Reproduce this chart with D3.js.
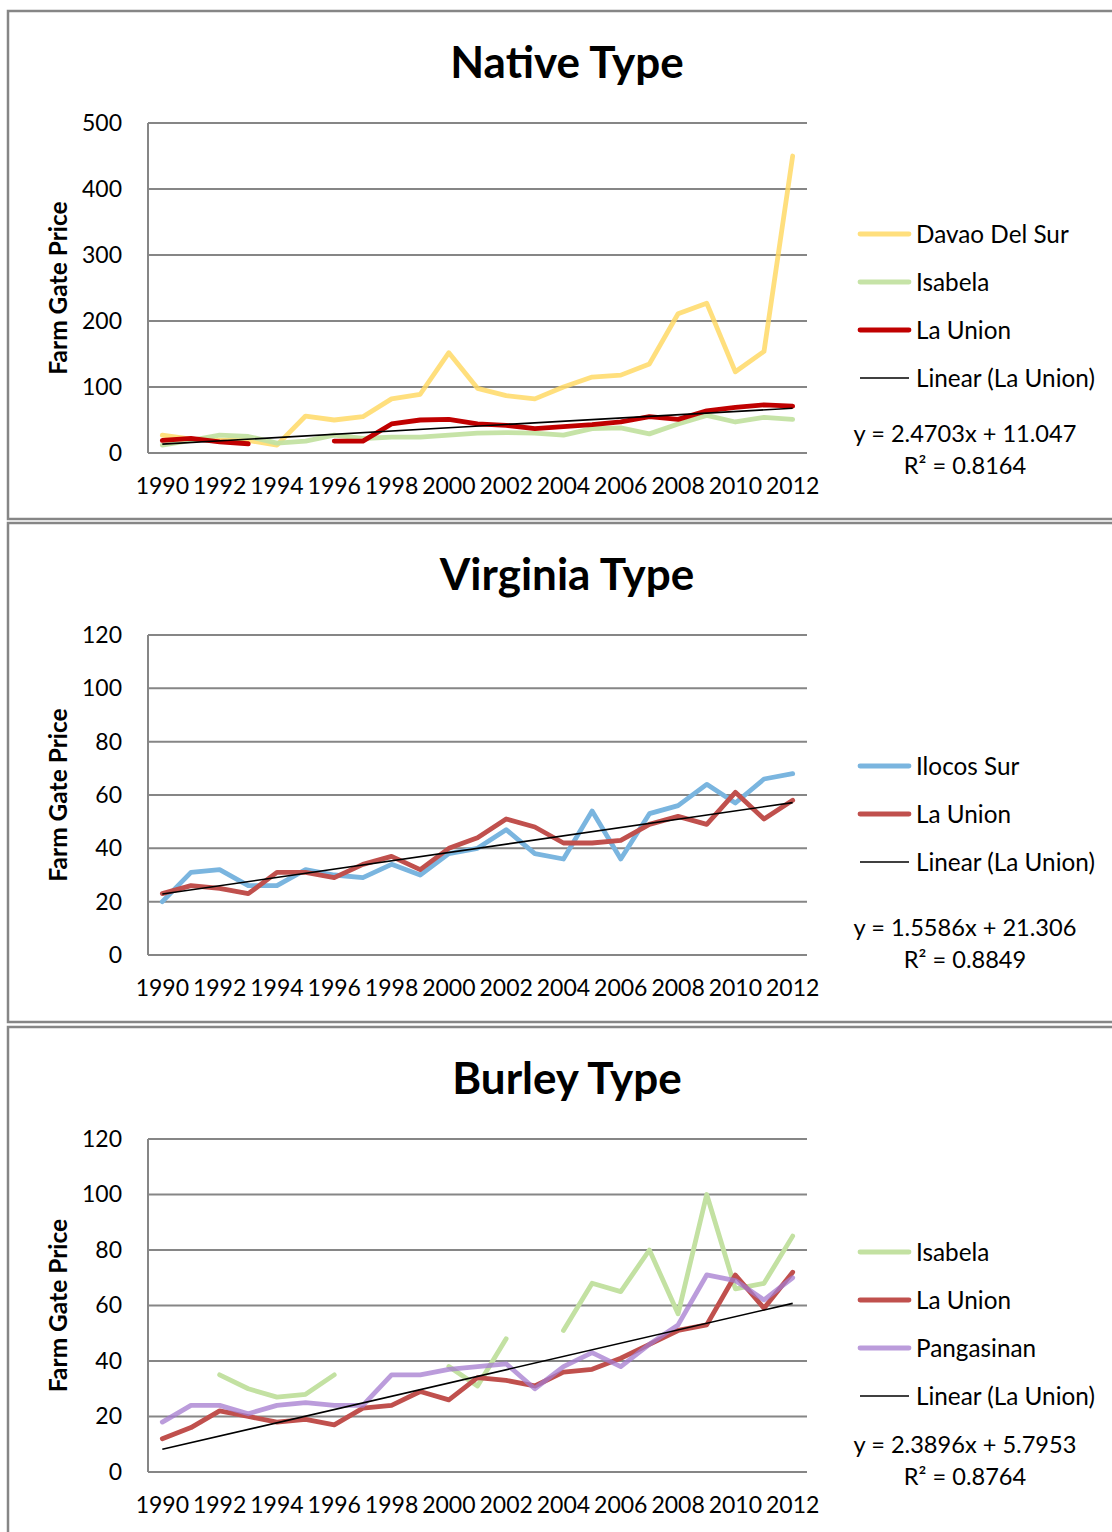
<!DOCTYPE html>
<html>
<head>
<meta charset="utf-8">
<script src="https://cdn.jsdelivr.net/npm/d3@7"></script>
<style>
  html, body { margin: 0; padding: 0; background: #fff; }
  svg { display: block; }
  text { font-family: Lato, "Open Sans", sans-serif; fill: #000; }
</style>
</head>
<body>
<svg id="chart" width="1112" height="1532"></svg>
<script>
// Farm gate prices of tobacco by type and province, 1990-2012
const years = [1990, 1991, 1992, 1993, 1994, 1995, 1996, 1997, 1998, 1999, 2000, 2001,
               2002, 2003, 2004, 2005, 2006, 2007, 2008, 2009, 2010, 2011, 2012];

// Native type
const nativeDavao    = [27, 21, 19, 19, 12, 56, 50, 55, 82, 89, 152, 98, 87, 82, 100, 115, 118, 135, 211, 227, 123, 154, 450];
const nativeIsabela  = [12, 19, 27, 25, 15, 18, 27, 22, 24, 24, 27, 30, 31, 30, 27, 37, 38, 29, 44, 57, 47, 54, 51];
const nativeLaUnion  = [19, 22, 17, 14, null, null, 18, 18, 44, 50, 51, 44, 42, 37, 40, 43, 47, 55, 51, 64, 69, 73, 71];
const nativeTrend    = { slope: 2.4703, intercept: 11.047, r2: "0.8164" };
const nativeTicks    = [0, 100, 200, 300, 400, 500];

// Virginia type
const virginiaIlocos  = [20, 31, 32, 26, 26, 32, 30, 29, 34, 30, 38, 40, 47, 38, 36, 54, 36, 53, 56, 64, 57, 66, 68];
const virginiaLaUnion = [23, 26, 25, 23, 31, 31, 29, 34, 37, 32, 40, 44, 51, 48, 42, 42, 43, 49, 52, 49, 61, 51, 58];
const virginiaTrend   = { slope: 1.5586, intercept: 21.306, r2: "0.8849" };
const virginiaTicks   = [0, 20, 40, 60, 80, 100, 120];

// Burley type
const burleyIsabela    = [null, null, 35, 30, 27, 28, 35, null, null, null, 38, 31, 48, null, 51, 68, 65, 80, 57, 100, 66, 68, 85];
const burleyLaUnion    = [12, 16, 22, 20, 18, 19, 17, 23, 24, 29, 26, 34, 33, 31, 36, 37, 41, 46, 51, 53, 71, 59, 72];
const burleyPangasinan = [18, 24, 24, 21, 24, 25, 24, 24, 35, 35, 37, 38, 39, 30, 38, 43, 38, 46, 53, 71, 69, 62, 70];
const burleyTrend      = { slope: 2.3896, intercept: 5.7953, r2: "0.8764" };
const burleyTicks      = [0, 20, 40, 60, 80, 100, 120];

const xTickYears = [1990, 1992, 1994, 1996, 1998, 2000, 2002, 2004, 2006, 2008, 2010, 2012];

const panels = [
  {
    title: "Native Type", top: 11, height: 508, plotTop: 123, plotBottom: 453,
    ticks: nativeTicks, trend: nativeTrend,
    series: [
      { name: "Davao Del Sur", values: nativeDavao, color: "#FFD966", opacity: 0.85 },
      { name: "Isabela", values: nativeIsabela, color: "#C3E1A2", opacity: 0.95 },
      { name: "La Union", values: nativeLaUnion, color: "#C00000", opacity: 1 }
    ],
    legendY: [234, 282, 330, 378], eqY: [434, 466]
  },
  {
    title: "Virginia Type", top: 523, height: 499, plotTop: 635, plotBottom: 955,
    ticks: virginiaTicks, trend: virginiaTrend,
    series: [
      { name: "Ilocos Sur", values: virginiaIlocos, color: "#7AB5DF", opacity: 1 },
      { name: "La Union", values: virginiaLaUnion, color: "#C0504D", opacity: 1 }
    ],
    legendY: [766, 814, 862], eqY: [928, 960]
  },
  {
    title: "Burley Type", top: 1027, height: 510, plotTop: 1139, plotBottom: 1472,
    ticks: burleyTicks, trend: burleyTrend,
    series: [
      { name: "Isabela", values: burleyIsabela, color: "#C3E1A2", opacity: 1 },
      { name: "La Union", values: burleyLaUnion, color: "#C0504D", opacity: 1 },
      { name: "Pangasinan", values: burleyPangasinan, color: "#A47BCF", opacity: 0.75 }
    ],
    legendY: [1252, 1300, 1348, 1396], eqY: [1445, 1477]
  }
];

const svg = d3.select("#chart");
const plotLeft = 148, plotRight = 807;
const gridColor = "#868686";

const x = d3.scaleBand().domain(years).range([plotLeft, plotRight]).paddingInner(0).paddingOuter(0);
const cx = yr => x(yr) + x.bandwidth() / 2;

panels.forEach(p => {
  const g = svg.append("g");

  // outer frame
  g.append("rect")
    .attr("x", 8).attr("y", p.top)
    .attr("width", 1130).attr("height", p.height)
    .attr("fill", "#fff")
    .attr("stroke", gridColor).attr("stroke-width", 2.5);

  // title
  g.append("text")
    .attr("x", 567).attr("y", p.top + 67)
    .attr("text-anchor", "middle")
    .attr("font-size", 44).attr("font-weight", "bold")
    .text(p.title);

  const y = d3.scaleLinear()
    .domain([0, d3.max(p.ticks)])
    .range([p.plotBottom, p.plotTop]);

  // horizontal gridlines
  g.append("g").selectAll("line")
    .data(p.ticks)
    .join("line")
    .attr("x1", plotLeft).attr("x2", plotRight)
    .attr("y1", d => y(d)).attr("y2", d => y(d))
    .attr("stroke", gridColor).attr("stroke-width", 2);

  // vertical axis line
  g.append("line")
    .attr("x1", plotLeft).attr("x2", plotLeft)
    .attr("y1", p.plotTop).attr("y2", p.plotBottom)
    .attr("stroke", gridColor).attr("stroke-width", 2);

  // y axis labels
  const yAxis = g.append("g")
    .attr("transform", `translate(${plotLeft},0)`)
    .call(d3.axisLeft(y).tickValues(p.ticks).tickSize(0).tickPadding(26));
  yAxis.select(".domain").remove();
  yAxis.selectAll("text")
    .attr("font-family", "Lato, 'Open Sans', sans-serif")
    .attr("font-size", 23).attr("fill", "#000");

  // x axis labels
  const xAxis = g.append("g")
    .attr("transform", `translate(0,${p.plotBottom})`)
    .call(d3.axisBottom(x).tickValues(xTickYears).tickSize(0).tickPadding(25));
  xAxis.select(".domain").remove();
  xAxis.selectAll("text")
    .attr("font-family", "Lato, 'Open Sans', sans-serif")
    .attr("font-size", 23).attr("fill", "#000");

  // axis title
  const midY = (p.plotTop + p.plotBottom) / 2;
  g.append("text")
    .attr("transform", `translate(67,${midY}) rotate(-90)`)
    .attr("text-anchor", "middle")
    .attr("font-size", 24.5).attr("font-weight", "bold")
    .text("Farm Gate Price");

  // data lines
  const line = d3.line()
    .defined(d => d.v != null)
    .x(d => cx(d.year))
    .y(d => y(d.v));

  p.series.forEach(s => {
    g.append("path")
      .datum(years.map((yr, i) => ({ year: yr, v: s.values[i] })))
      .attr("d", line)
      .attr("fill", "none")
      .attr("stroke", s.color)
      .attr("stroke-opacity", s.opacity)
      .attr("stroke-width", 4.8)
      .attr("stroke-linejoin", "round")
      .attr("stroke-linecap", "round");
  });

  // linear trend for La Union (x = 1 .. n)
  const trendPts = years.map((yr, i) => ({ year: yr, v: p.trend.slope * (i + 1) + p.trend.intercept }));
  g.append("path")
    .datum([trendPts[0], trendPts[trendPts.length - 1]])
    .attr("d", line)
    .attr("fill", "none")
    .attr("stroke", "#000")
    .attr("stroke-width", 1.6);

  // legend
  const legendItems = p.series.map(s => ({ name: s.name, color: s.color, opacity: s.opacity, w: 4.8 }))
    .concat([{ name: "Linear (La Union)", color: "#000", opacity: 1, w: 1.6 }]);
  const lg = g.append("g");
  legendItems.forEach((it, i) => {
    const ly = p.legendY[i];
    lg.append("line")
      .attr("x1", 860).attr("x2", 909)
      .attr("y1", ly).attr("y2", ly)
      .attr("stroke", it.color).attr("stroke-opacity", it.opacity)
      .attr("stroke-width", it.w)
      .attr("stroke-linecap", it.w > 2 ? "round" : "butt");
    lg.append("text")
      .attr("x", 916).attr("y", ly).attr("dy", "0.35em")
      .attr("font-size", 24.3)
      .text(it.name);
  });

  // trend equation
  g.append("text")
    .attr("x", 965).attr("y", p.eqY[0]).attr("dy", "0.35em")
    .attr("text-anchor", "middle").attr("font-size", 23.6)
    .text(`y = ${p.trend.slope}x + ${p.trend.intercept}`);
  g.append("text")
    .attr("x", 965).attr("y", p.eqY[1]).attr("dy", "0.35em")
    .attr("text-anchor", "middle").attr("font-size", 23.6)
    .text(`R² = ${p.trend.r2}`);
});
</script>
</body>
</html>
